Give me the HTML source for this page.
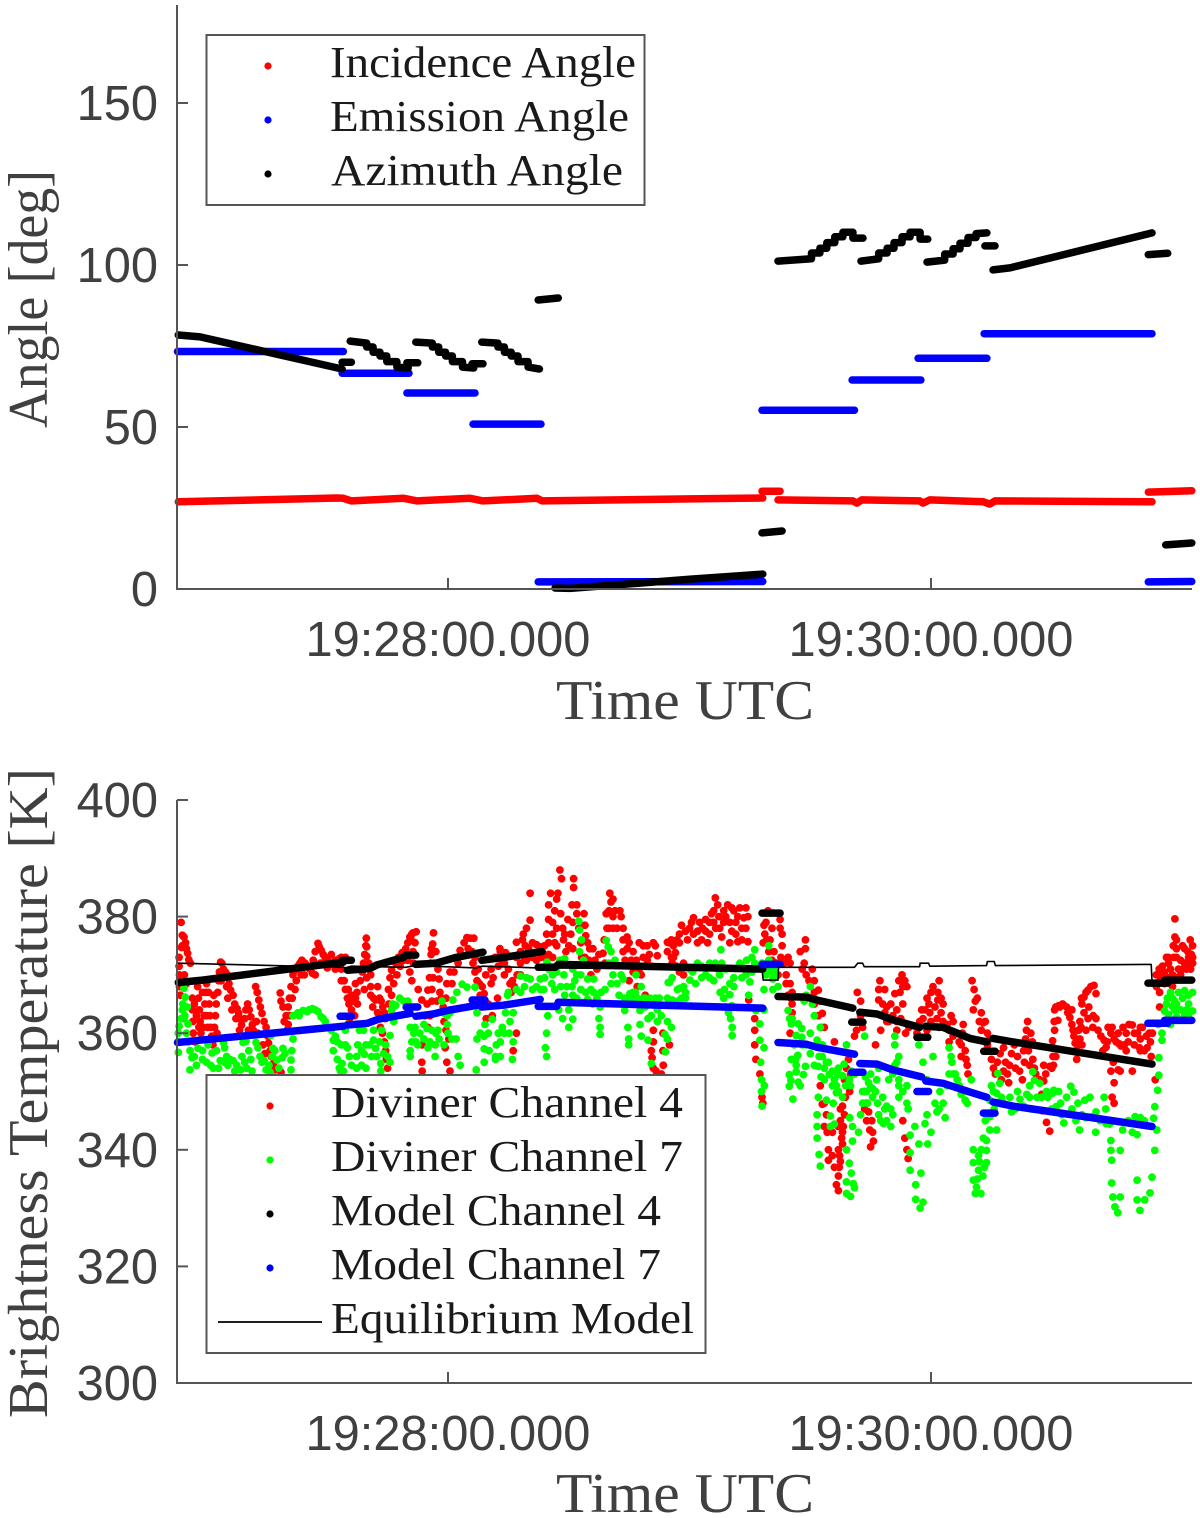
<!DOCTYPE html>
<html>
<head>
<meta charset="utf-8">
<title>Angles and brightness temperature</title>
<style>
html,body{margin:0;padding:0;background:#fff;width:1200px;height:1518px;overflow:hidden}
svg{display:block}
.tick{font-family:"Liberation Sans",sans-serif;font-size:48.8px;fill:#404040}
.title{font-family:"Liberation Serif",serif;font-size:56px;fill:#404040}
.leg{font-family:"Liberation Serif",serif;font-size:44px;fill:#1a1a1a}
.axis{stroke:#555;stroke-width:2;fill:none}
.box{stroke:#555;stroke-width:2;fill:#fff}
</style>
</head>
<body>
<svg id="figure" width="1200" height="1518" viewBox="0 0 1200 1518" xmlns="http://www.w3.org/2000/svg">
  <g id="angle-marks"></g>
  <g id="angle-axes"></g>
  <text class="title" transform="translate(47,428) rotate(-90)" textLength="258" lengthAdjust="spacingAndGlyphs">Angle [deg]</text>
  <text class="title" x="556" y="719" textLength="258" lengthAdjust="spacingAndGlyphs">Time UTC</text>
  <g>
    <rect class="box" x="206.5" y="35" width="438" height="170"/>
    <circle cx="268" cy="66" r="3.6" fill="#ff0000"/>
    <text class="leg" x="330" y="77" textLength="306" lengthAdjust="spacingAndGlyphs">Incidence Angle</text>
    <circle cx="268" cy="120" r="3.6" fill="#0000ff"/>
    <text class="leg" x="330" y="131" textLength="299" lengthAdjust="spacingAndGlyphs">Emission Angle</text>
    <circle cx="268" cy="174" r="3.6" fill="#000"/>
    <text class="leg" x="331" y="185" textLength="292" lengthAdjust="spacingAndGlyphs">Azimuth Angle</text>
  </g>

  <g id="temp-marks"></g>
  <g id="temp-axes"></g>
  <text class="title" transform="translate(47,1418) rotate(-90)" textLength="650" lengthAdjust="spacingAndGlyphs">Brightness Temperature [K]</text>
  <text class="title" x="556" y="1512" textLength="258" lengthAdjust="spacingAndGlyphs">Time UTC</text>
  <g>
    <rect class="box" x="206.5" y="1075" width="499" height="278"/>
    <circle cx="270" cy="1106" r="3.6" fill="#ff0000"/>
    <text class="leg" x="331" y="1117" textLength="352" lengthAdjust="spacingAndGlyphs">Diviner Channel 4</text>
    <circle cx="270" cy="1160" r="3.6" fill="#00ff00"/>
    <text class="leg" x="331" y="1171" textLength="352" lengthAdjust="spacingAndGlyphs">Diviner Channel 7</text>
    <circle cx="270" cy="1214" r="3.6" fill="#000"/>
    <text class="leg" x="331" y="1225" textLength="330" lengthAdjust="spacingAndGlyphs">Model Channel 4</text>
    <circle cx="270" cy="1268" r="3.6" fill="#0000ff"/>
    <text class="leg" x="331" y="1279" textLength="330" lengthAdjust="spacingAndGlyphs">Model Channel 7</text>
    <line x1="218" y1="1322" x2="322" y2="1322" stroke="#000" stroke-width="1.8"/>
    <text class="leg" x="331" y="1333" textLength="363" lengthAdjust="spacingAndGlyphs">Equilibrium Model</text>
  </g>
</svg>
<script>
// Tick values. Time is in seconds relative to 19:28:00.
const timeTicks = [0, 120];
const timeTickLabels = ['19:28:00.000', '19:30:00.000'];
const angleTicks = [0, 50, 100, 150];
const tempTicks = [300, 320, 340, 360, 380, 400];

// Top panel: [seconds, degrees]
const incidenceSegments = [
  [[-67,26.9],[-27.6,28.1],[-26,28],[-24,27.2],[-11,28],[-7.7,27.2],[5.5,28],[8.7,27.2],[22.1,28],[23.4,27.2],[60,27.8],[78.2,28.1]],
  [[78,30.2],[82.5,30.2]],
  [[82,27.5],[100.6,27.2],[101.6,26.5],[102.8,27.5],[117.2,27.2],[118,26.5],[119.7,27.5],[133,26.9],[134.6,26.2],[135.9,27.2],[174.9,26.9]],
  [[174,29.9],[184.8,30.3]]
];
const emissionSegments = [
  [[-67.2,73.3],[-26,73.3]],
  [[-26.3,66.6],[-9.7,66.6]],
  [[-10.2,60.5],[6.7,60.5]],
  [[6.2,50.9],[23.1,50.9]],
  [[22.4,2.2],[78.2,2.3]],
  [[78,55.2],[101,55.2]],
  [[100.4,64.5],[117.5,64.5]],
  [[116.8,71.2],[133.9,71.2]],
  [[133.2,78.8],[174.9,78.8]],
  [[174,2.2],[184.8,2.3]]
];
const azimuthSegments = [
  [[-67,78.4],[-61.6,77.8],[-26.3,67.9]],
  [[-26.3,70],[-24,70]],
  [[-24.3,76.5],[-20.2,75.9],[-20.2,74.7],[-18.6,74.7],[-18.6,73.1],[-16.9,73.1],[-16.9,71.9],[-15.2,71.9],[-15.2,70.2],[-12.7,70.2],[-12.7,68.5],[-9.9,68.2]],
  [[-10.2,69.8],[-7.5,69.8]],
  [[-8,76.2],[-3.9,75.9],[-3.9,74.7],[-2.3,74.7],[-2.3,73.1],[-0.6,73.1],[-0.6,71.9],[1.1,71.9],[1.1,70.2],[3.6,70.2],[3.6,68.5],[6.4,68.2]],
  [[6,69.5],[8.7,69.5]],
  [[8.4,76.2],[12.4,75.9],[12.4,74.7],[14,74.7],[14,73.1],[15.7,73.1],[15.7,71.9],[17.4,71.9],[17.4,70.2],[19.9,70.2],[19.9,68.5],[22.7,67.9]],
  [[22.4,89.2],[27.4,89.8]],
  [[26.6,0.3],[30.3,0.2],[60,3],[78.2,4.6]],
  [[78,17.3],[83,17.9]],
  [[82,101.2],[90.3,101.9],[90.3,103.7],[92.4,103.7],[92.4,105.2],[94.1,105.2],[94.1,106.9],[96.1,106.9],[96.1,108.7],[98.1,108.7],[98.1,110.1],[100.6,110.1],[100.6,108.3],[103.1,108.3]],
  [[102.6,101.2],[107,101.9],[107,103.7],[109.1,103.7],[109.1,105.2],[110.8,105.2],[110.8,106.9],[112.8,106.9],[112.8,108.7],[114.8,108.7],[114.8,110.1],[117.3,110.1],[117.3,108],[119.2,108]],
  [[119,100.9],[123.4,101.5],[123.4,103.4],[125.5,103.4],[125.5,105],[127.2,105],[127.2,106.7],[129.2,106.7],[129.2,108.5],[131.2,108.5],[131.2,109.7],[133.9,109.9]],
  [[133.4,105.9],[135.9,105.9]],
  [[135.4,98.5],[139.6,99.1],[174.9,109.9]],
  [[174,103.2],[178.8,103.6]],
  [[178.3,13.6],[184.8,14.2]]
];

// Bottom panel: [seconds, kelvin]
const model4Segments = [
  [[-67,368.7],[-61,369.1],[-26,372.2]],
  [[-26.3,372.5],[-24,372.5]],
  [[-25,370.8],[-19.4,371.1],[-17.7,371.7],[-11,373]],
  [[-10.5,373.4],[-8,373.4]],
  [[-8,371.8],[-3,372],[2,373],[8.7,373.9]],
  [[8.4,372.5],[13.8,373],[23.4,374]],
  [[22.4,371.3],[26.6,371.3],[27.4,371.8],[78.2,371]],
  [[78,380.6],[82.5,380.6]],
  [[82,366.3],[89.1,366.2],[91.6,365.7],[100.6,364.3]],
  [[100.3,361.9],[103.1,361.9]],
  [[102.3,363.6],[106.6,363.3],[110.5,362.3],[117.2,361]],
  [[116.5,359.3],[119.2,359.3]],
  [[118.7,361.2],[123,361],[129.7,359.1],[133.9,358.5]],
  [[133.1,356.9],[135.9,356.9]],
  [[135.4,359.1],[139.6,358.6],[174.9,354.7]],
  [[173.9,368.6],[178.8,368.6]],
  [[178,369.1],[184.8,369.1]]
];
const model7Segments = [
  [[-67.2,358.4],[-61.6,358.8],[-26,361.2]],
  [[-26.8,362.9],[-24,362.9]],
  [[-25,361.4],[-20,361.7],[-17.3,362.4],[-9.4,363.4]],
  [[-10.4,364.5],[-7.5,364.5]],
  [[-8,362.9],[-3.7,363.3],[-0.2,363.9],[7.4,364.8]],
  [[6,365.7],[9.2,365.7]],
  [[8.4,364.5],[13.8,364.8],[22.9,365.8]],
  [[22.4,364.6],[27,364.6],[27.4,365.3],[78.2,364.3]],
  [[78,371.8],[82.5,371.8]],
  [[82,358.4],[89.1,358.1],[91.6,357.6],[101,356.4]],
  [[100.3,353.3],[103.1,353.3]],
  [[102.3,354.8],[106.6,354.7],[110.5,353.7],[117.7,352.5]],
  [[116.5,350],[119.4,350]],
  [[118.7,351.8],[123,351.4],[129.7,349.9],[133.9,349]],
  [[133,346.3],[135.9,346.3]],
  [[135.4,348.2],[140.3,347.5],[174.9,344]],
  [[173.9,361.7],[178.8,361.7]],
  [[178,362.2],[184.8,362.2]]
];
const equilibriumLine = [[-67,372],[-26,371.3],[-25.5,371.2],[-24,371.5],[-10.5,371.3],[-9,371.5],[-8,371.6],[7,371.2],[8.5,371.5],[22.4,371.2],[78,371],[78.3,369.1],[82,369.1],[82.1,371.3],[101,371.3],[101.8,372],[103,372],[103.4,371.4],[117.2,371.4],[117.3,372],[119.4,372],[119.7,371.5],[133.8,371.6],[134,372.3],[135.7,372.3],[136,371.6],[174.7,371.8],[174.9,369],[184.8,369.1]];

const channel4Obs = [
[-66.3,379],[-66,376.8],[-65.6,376.5],[-65.2,375.5],[-65,374.5],[-64.7,373.7],[-64.4,372.6],[-66.8,373],[-66.8,371.5],[-66.7,370],[-66.7,368],[-66.5,366.5],[-65.5,370],[-65,368.5],
[-63.5,366],[-63.5,364],[-63.4,362],[-63.3,360],[-62.8,358.5],[-62.2,368],[-62,366],[-61.8,364],[-61.6,362],[-61.4,360],[-60.8,361],[-60.6,363],[-60.4,365],[-60.2,367],[-60,368.5],[-59.5,367],[-59.3,365],[-59.1,363],[-58.9,361],[-58.7,359.5],[-58.4,358],[-58,361],[-57.8,363],[-57.6,365],[-57.2,367],[-57,369],[-56.8,370.5],[-56.5,372.2],[-56.2,372],[-55.8,371],[-55.3,370.5],[-54.8,370],[-54.4,368.5],[-54,367.4],[-53.4,366.5],[-53,365],[-52.4,364.2],[-52,363.4],[-51.5,362.4],[-51.3,361.4],[-50.5,362.5],[-50.2,364],[-49.8,365],[-49.4,364],[-49,362.8],[-48.6,361.5],[-48.4,360.5],[-47.8,368],[-47.4,367],[-47,365.7],[-46.6,364.5],[-46.2,363.4],[-45.7,362],[-45.2,361],[-44.8,359.5],[-44.6,358.3],[-44.2,357],[-43.9,356],[-43.4,354.8],[-43,353.7],[-41.5,353.3],
[-66,375],[-64,372],[-66.2,374.7],[-63,365],[-62.5,363],[-61.9,361],[-61,367],[-60,363],[-59.7,361],[-58.2,366.5],[-57.4,360],[-56.3,369],[-55,368],[-54.7,366],[-53.7,364],[-52.7,362.5],[-51.8,360.5],[-49.6,360.5],[-47.6,362],[-47.3,360],[-46,358],[-45.5,356.5],[-42.5,354],
[-41.7,366.9],[-41.5,365.5],[-41,364.5],[-40.2,363],[-39.7,364.5],[-39.4,366],[-39,368],[-38.5,370],[-38,370.8],[-37.3,371.5],[-36.8,372],[-36.3,372.5],[-35.5,372],[-34.8,371.5],[-34.3,371],[-33.7,370.3],[-33,370],[-32.3,375.4],[-32,374.8],[-31.5,374.2],[-31,373.5],[-30.5,373],[-30,372.9],[-29,372],[-28,372.5],[-27,372.8],[-26,372.5],[-25.5,373],
[-40.7,362],[-40,360.5],[-39.7,361.5],[-39.3,363],[-38.7,366],[-38,367.5],[-37.7,369],[-36.5,370],[-35.7,370],[-33.5,372.5],[-33,374],[-31.7,372],[-30,371.2],[-29,373.5],[-28,371],
[-26.5,373],[-26.5,371],[-26.5,369],[-25.8,369],[-25.5,367.5],[-25,366],[-24.6,365],[-24,364],[-23.2,363],[-23,368.5],[-22.6,367],[-21.8,369],[-21.3,370.5],[-21,372],[-20.7,373.5],[-20.4,375],[-20.3,376.3],[-20.2,374.8],[-20.2,373.2],[-20.4,371.7],[-19.2,370],[-19.2,368],[-19.2,366.5],[-18.5,366],[-18,365.7],[-17.5,368],[-17,366],[-16.6,365.5],[-16.2,364.5],[-15.8,363.5],[-15.5,362.5],[-16.8,361],[-16.3,360],[-15.8,358.5],[-15.5,357],[-15.3,355.5],[-15,354],[-14.8,367.5],[-14.4,369.5],[-14,370.8],[-13,372],[-12.3,373],[-11.4,373.8],[-10.5,374.5],[-10,375.5],[-9.5,376.5],[-9,377],[-8.7,377.2],[-7.9,377.4],[-8.2,375.5],[-9.2,376],[-8.7,374],[-8.6,372],[-7.4,367.5],[-6.5,365.7],[-6.4,358],[-6.5,355],[-6.4,353.5],[-5,367.4],[-4.6,369.5],[-4.3,372],[-4.1,374.5],[-3.6,377.2],[-3.8,375.3],[-4.2,373.5],[-2.5,371],[-2.2,369.3],[-2.8,365.5],[-1.2,364.5],[-0.3,368.5],[0.5,370.5],[-0.7,357.5],[-0.3,355],[0.5,353.5],[4,375.5],[3,374.2],[4.7,376.4],[6.4,376.3],[6.7,373],[7.5,371],[7.8,368.5],[9,366.8],[9.4,370],[10.7,371],[11.7,373],[12.9,374.5],[13,374],[14.3,373.8],[14,372],[11,363],[12.3,366],
[-24.8,367.5],[-24,366.5],[-23.7,365.5],[-23,366],[-22.5,365],[-24.5,362.5],[-20.8,367.5],[-20.2,369.5],[-19.7,372],[-18.7,364.5],[-17.5,363.5],[-17,362.5],[-14.7,365],[-14,366.5],[-13.5,368.5],[-12.7,370],[-11.9,371.5],[-11,372.5],[-10,372.5],[-9.5,370.5],[-9,369],[-5.7,363],[-5.2,365],[-5,361],[-4.5,363],[-4,365.5],[-4,367.5],[-3.7,369.5],[-3.3,372],[-3,374],[-2,367],[-1.7,366],[-0.5,366],[-1,362],[-0.5,360.5],[0.2,359],[2.5,372],[1.5,370.5],[1,368.5],[5.5,376.3],[5,374.5],[6,374],[6.2,372],[6.7,370.5],[7.2,369],[8,366.5],[8.5,368],[8.5,364.5],[9.5,362.5],[10,365],[10.7,368.5],[11.2,369.5],[12.5,371.5],[13.5,372.5],[14,370],[15,371],[16,369],[16.5,368],
[15.4,368.5],[15.7,367],[17,375.6],[17,373],[17.2,370],[17,360],[16.2,357],[20.4,384],[20.4,379.4],[19.5,378],[18.5,376],[18.7,377],[19.2,375],[20,374.5],[21,375.5],[22,375.2],[23,374.8],[24,375],[25,375.5],[24.5,377],[25,379.5],[25,382],[25.5,384],[27.3,384],[27.8,388],[28.2,386.5],[27,383],[26.5,381],[26,379],[26,377],[26.5,375.5],[29,377],[29.8,379.5],[30.8,382],[31.2,386.5],[31.2,385],[32,382],[32,380.5],[33.8,380.5],[34,378.5],[34.2,376.7],[34.7,375.5],[35.2,374.5],[36,374.5],[38.8,376],[38.5,373.7],[39,372],[35.5,370],[40.2,384],[40.5,382.5],[41,383],[40,381],[41,380],[41.5,381],[42.7,381],[43,380],[43.5,378],[43.5,376],[45,375.5],[46,374],[44,372.5],[47.5,375.5],[48.5,375],[48.5,373],[51,375.5],[51.5,375],[50,373.5],[52,373.3],[45.5,366],[45,369],[49,366.5],[50.5,365],
[18,374],[18,372],[18,370],[19,373],[19.5,372.5],[21,373],[22,372.5],[23,373],[24,373],[25,373.5],[26,373],[27,375],[27,378],[28,380.5],[28.5,378],[28.7,376],[29.3,374],[30,375],[30.5,377],[31,379],[31,374.5],[32.5,378],[33,375.5],[33.2,373],[34,373],[35,372.5],[36.5,372.5],[37,371],[37.5,373.5],[39.5,378],[39.3,380.5],[40,378],[41,378],[42,378],[44.5,376.5],[44.5,374.5],[43.5,374],[45.5,372.5],[46.8,372.5],[47.5,371],[48,370],[49.5,375],[49.5,372.5],[50.5,371.5],[46,370.5],[47,368],
[51,360.5],[51,358.5],[50.5,357],[50.7,355.8],[51,354],[51.7,353.5],[53.4,360],[53.4,357],[53.5,354.5],[53,353],[55,375.5],[54.5,374],[55.5,373],[56.7,371.5],[55.7,372],[57.5,370.5],[56,375],
[54.5,375.6],[56,373],[56.5,373.8],[56.9,376],[57.5,375.5],[58.5,372],[58.5,370],[59,377.5],[60.5,379],[61,379.8],[62.5,379],[63.2,378],[63,376],[64,379.5],[65,377],[65.5,380.5],[66,381],[66.4,383.2],[67,382],[67.3,380],[66.5,378],[68,376.5],[69.5,382],[69,380],[71,381],[71.5,379],[71.5,377],[74,381.5],[73.5,379.8],[73,378],[72,375.7],[74.5,375.7],[55,358],[74.7,365.7],[76.2,362.5],[76.2,360.5],[76.2,358],[76.5,355.5],[77.5,353],[78,349],[78.2,348],
[55.5,376],[57.5,377],[58,378.5],[59.5,376],[60,378],[61,377],[62,377.5],[62,375.5],[64,377.5],[64.5,375.5],[65,379],[66,379],[67.5,378],[68.5,379],[68.5,381],[70,379],[70.5,381.5],[70.5,377.5],[72,380],[72.5,381.5],[73,376],[74,378],[74.5,380],[70,375.5],
[79.5,381],[79,379],[78.7,377],[78.3,375.5],[80,376],[81,374],[82.5,379.5],[82.5,378],[83,375],[83.5,372],[84.5,373],[85,372],[85.5,367],[85.5,365],[85.5,363.5],[85,360],[88.8,376],[88.8,374.5],[88.5,372],[90.5,371],[91,369],[92,367.4],[91,365],[93,363.4],[93.5,361],[96,358.5],
[78.5,378.5],[79.2,376],[79.7,374],[80.5,378],[80.5,372.5],[81.5,372],[82,370],[83,377],[82.7,373],[84,370],[84,368.5],[84.5,366.5],[85,368.5],[85.2,366],[87.5,374],[88,371],[89,370],[89.7,369],[91,367],[92,363],[92.5,365.5],[92.7,361],
[92.5,351],[93,347.8],[93.5,344],[94.5,340],[94.5,338.2],[97.5,345],[98,343],[98,341],[97,340],[97.5,338],[97,335.5],[97,333],[99,351],[98.7,349],[98,347.5],[98.5,346],[98.2,344],[97.8,342],[97.3,339],[97.2,337],
[93.5,348],[94,346],[94.2,343],[95.5,339],[96,337],[96.5,334],[95.5,343],[97,344],[97.5,347],[98.5,352],[99,354],[99.5,355.5],[100,353],[99.8,350],
[101.7,367],[102.5,365.5],[101.5,360.5],[101,359.5],[103.5,350],[103.5,347],[104,345],[104.8,343.4],[105,340.5],[106.2,358],
[107.3,369],[107,367.5],[107,365.7],[109,364.5],[110,365],[111,366.8],[112,369],[112.8,370],[112.3,367],[107.5,360.5],[111.5,360.5],[113.7,360],[108,365],[108.5,363.5],[111.5,364],
[102.5,363],[103,361],[104,348],[105.5,343],[105.7,341.5],[105.3,345],[104.5,346.5],[108.5,367.5],[109,362],[109.5,362],[110.5,363],[111.5,362],[113,368],[113.5,369],[114,368],[113,365],[112.5,362.5],[114.5,361],
[113,345],[113.5,342],[114,340],[114.3,338.5],
[117.7,364],[117.2,362],[119.7,363.5],[122,369],[121.7,367],[121.7,365.7],[121,364.5],[120,362],[119,360.5],[122.5,363.5],[123,362],[125.5,362],[125.5,359.5],
[116.5,360],[118,362.5],[118.5,364],[119,366],[119.5,365],[120,367],[120.5,368],[121.5,362.5],[122,361],[122.5,366],[123,365],[124,361.5],[124.5,360.5],[125,363],[124.5,358.5],[127.8,360],[127,358.5],[127.5,356],[128.7,355.5],[129.2,353],[130.2,369],[130.5,364],[131.5,366],[132,362],[132.5,360.5],[133.5,362],[134,358],[135,355.5],[135.5,354],[136.5,355],[137.5,352],[138.5,355],[138,353.5],[140,356.5],[139.5,354.5],[141,354],[142,353.5],[143,357],[143.2,355],[144.2,357],[144.5,354.5],[146,353],[147,352],[148.5,353],
[128,361.5],[128.5,357],[129,354.5],[127.5,358],[130.7,367.5],[131,365.5],[132.5,363.5],[133,361.8],[134,360],[134.5,359],
[136,353],[137.2,356.5],[138,357.5],[139,353],[139.3,351.5],[140.7,358],[141.5,356],[142.7,352],[144,362],[143.7,360.5],[143.5,359],[144.8,360],[145.2,358.5],[145.3,355.5],[145.7,354],[148,354.5],[149.5,354.3],[150,354],[148,351.8],[147.5,349.5],[147.7,346.7],[148.7,344.7],[149.5,343.2],
[151,364.5],[151.5,362.2],[150.7,360.5],[150.2,358.7],[150.4,357.5],[153.7,364.5],[154.5,362.7],[155.3,360.5],[155.8,358.3],[152,364.5],[153,364.8],[154,363.5],[155,361.5],[155.5,359.5],[158,366.2],[159,367.4],[160.5,368.2],[158,363.5],[157.5,365],[156.7,360.5],[157,362],[161,366.8],[161,362.5],[161.5,360.5],[163,358.8],[163.5,357.6],[164.7,360],[166.5,360],[167.7,361],[170,361.4],[171.3,360],[173,357],[174.5,358.5],[165.5,359],[168.5,360],[169,358.5],[170.5,358],[172,359],[173.5,359.5],[172,361],[168.5,357],
[150.6,362],[150.7,364],[151.7,364.7],[150.3,356],[150.4,354.5],[151,356],[152.7,365],[154.2,364],[155,364],[156,357],[156.2,355.5],[156.8,358],[157.4,366],[157.3,361],[157,359],[157.5,358],[158.5,367],[159.7,368],[159.2,364.5],[159,362.5],[158.5,360.5],[160.3,363],[160.2,361],[162.2,359.5],[162.7,357],[164,361],[165,361],[166,358.5],[167.2,357.8],[168,358],[169.2,361.5],[170.5,360],[171.8,357.5],[172.5,361],[173.7,357.5],[174.2,360],[174.7,356],[175,360],[166.7,358.2],[163.8,358.5],[164.7,355.8],[165.3,355],[166.5,353.7],
[164.7,353.5],[165.5,351.5],[165,349],[165.5,348],[167,353.5],[170,353.5],[172,357],[175.7,352],[176.8,367],[176.8,364.5],
[180.6,379.6],[180.6,376.5],[180.2,375],[176.7,371],[177,369],[178,370.5],[179,372],[181,373],[182,372.5],[183,374.5],[184.4,376],[183.8,374],[183.5,371],[182,370],[181,369.5],[176,370],[179,373],[181,374.5],[176,368],[178,368.5],[180,368],[183.5,372],[184.7,373.5],[185,375],[185,373],
[177.5,371.5],[178.5,373],[179.5,371],[180,370],[180.3,373],[181.5,371],[182.5,371],[182.5,375],[183,372],[184,373],[184.5,371],[185,372],[179,369.5],[177.5,370],[181,376],[177,370.5]
];
const channel7Obs = [
[-65.6,367.7],[-65.3,366.2],[-64.8,364.5],[-66,364],[-65.4,363],[-64.6,361.6],[-66.8,361.2],[-67,360],[-67,358.5],[-67,356.7],[-65.9,365],[-65.6,362.5],[-66.3,362.5],
[-64.1,353.7],[-64.1,357],[-63.6,355.8],[-62.1,357.4],[-61,357],[-59.6,358],[-58.6,356.6],[-61,355.5],[-58.3,354],[-56.6,355.3],[-55.8,358.4],[-55.5,357.5],[-55,356],[-54.2,355.5],[-53.4,355.3],[-52.5,354.5],[-51.5,353.7],[-51.2,356],[-50.9,358.4],[-50.2,358.6],[-49.5,357],[-48.7,353.5],[-47.7,358.4],[-47.2,357.5],[-46.7,356],[-45.7,355.3],[-44.5,354.5],[-44.2,353.3],[-43.5,357.4],[-44,359.6],[-43,357],[-42.5,355.4],[-41,357.4],[-41.2,355.8],[-39,353.7],[-39,355.4],[-38.8,357],[-38.5,359],[-38.5,363],[-37.3,363.5],[-36,363.9],[-34.5,364],[-33,364],[-32.3,363.7],[-31.5,362.8],[-30.5,362],[-30,361],[-29,360.5],[-28,359.5],[-27.5,358.5],[-26.5,358],
[-65,360],[-64.5,358.5],[-63,356],[-62.5,354.5],[-60,355],[-59,354.5],[-57.5,357],[-57,354],[-55.5,355],[-54.7,354.5],[-53,353.5],[-50.5,355],[-50,354],[-49,355.5],[-46.2,355],[-45.2,353.7],[-43.7,356],[-42,354],[-40.5,356.5],[-37,363],[-35,363.7],[-33.7,364.2],[-31,362.5],[-29.5,361],[-25,357.5],[-24.5,356],[-24,354.5],[-21.5,357],[-21.5,354.5],[-19.5,358],[-19,356],[-17,358.5],[-16,356.5],[-15,356],[-15.5,358],[-13.5,362],[-11,365.5],[-9,358.5],[-8.5,360],[-8,358.5],[-6,359],[-6,361.5],[-5,357.5],[-4.5,358.5],[-3,360],[-2.2,359],[-1,358],[-0.2,363],[0,360],[0.5,363.5],[2,359],[2.5,356],[3,354.5],[8,360],[9,359.5],[10,360],[10.2,357],[12,358],[12.5,360],[13.5,361],[13,356],[14,360],[15.2,360],
[-28.5,358.8],[-28.5,357],[-27.5,355.5],[-27,354],[-26.7,353.5],[-26.3,354.8],[-26,353.5],[-25.5,360.5],[-25.5,358],[-25,361.5],[-22.7,354],[-22.7,356],[-22.4,358],[-22,360.5],[-21,360.5],[-20.4,358],[-20.8,356.4],[-20.4,354],[-18.5,360.5],[-18.5,358.8],[-18,357.4],[-17.7,356],[-16.7,354.8],[-16.7,353.5],[-14.4,355],[-16.5,360.5],[-14.4,359.6],[-14,364],[-13.8,365],[-12,366],[-10,365.5],[-13,364.8],[-9.4,361],[-9.4,357],[-9.4,356],[-7.5,358],[-8.2,361],[-7,360],[-5.2,360.8],[-4,360.5],[-3.2,358],[-3.2,356],[-1.5,365.5],[-1.2,363.5],[-2.5,360.5],[-0.2,361.5],[1,359],[1.2,365.7],[2.2,367],[3.5,368.4],[4.7,367.9],[6.7,367.9],[7.2,363.5],[7.2,359],[9.2,361.5],[11,362.4],[9,357.3],[11.8,356],[9,355],[11.8,355.5],[14.3,363.5],[13,358.5],[14.8,366.5],[7,353.7],
[15,367],[15.4,362],[16.2,363.5],[16.2,358.5],[16,355.5],[17,367.5],[18,369.8],[20.4,369.3],[22.9,369.3],[24.6,372.2],[25,371],[23.8,367.5],[25.8,368.5],[26.5,367.5],[27.8,372.5],[28.8,370],[29,372.8],[31,371],[32.5,379.2],[32.7,377.7],[33.2,376],[32.7,374],[33.7,372.5],[34.7,369.3],[34.2,367],[34.7,365.8],[31.5,369],[30.8,368],[28,368],[27.5,364],[30,364],[31,362.4],[30,361],[24.8,363],[24.5,360],[24.2,357.5],[24.5,356],[36.2,369.3],[36.2,367],[37,366],[39,367.5],[37.8,364.5],[37.5,362.5],[37.8,361],[37.8,359.8],[39.3,375.9],[39.8,374.8],[40.5,374],[41.5,372.5],[43.5,369.3],[43.9,366],[43.9,363.9],[45.2,366.8],[44.7,361],[44.9,359],[44.9,358],[46.7,370],[46.5,367],[45.5,365.7],[47.7,363.9],[47.7,361.5],[49,366],[49.7,362.5],[49.7,358.8],[54,356.8],[50.5,354.8],[55,368.7],[54.5,366],[54.5,362],[55.5,365],
[18,367],[19,368],[21,367.5],[22,368],[19.5,369.5],[23,367.5],[24,369.5],[26,370],[27,370.5],[29,366.5],[28.5,362.5],[31,366.5],[32,366],[33,367.5],[29.5,368],[32,370],[33,370],[35.5,367.5],[36,365],[38,367],[40,372],[41,370],[42,368.5],[43,370],[42.5,366.5],[40.5,368.5],[46,367],[47,366],[48,368],[48.5,366],[48,359.5],[50.5,363],[51.5,366],[52,364],[52.5,366],
[50.2,366],[49,364.5],[52,362],[53.9,359.8],[55.5,361],[54.5,359],[53,363],[54.7,368.7],[55.7,369.5],[55.7,365.7],[56.5,364.8],[57,367.5],[57.6,367.7],[58.5,368],[60.1,369.1],[59,366],[62,372],[60.8,370.5],[64,370],[65,372],[66.4,372],[67.8,374.3],[68,372],[68.7,367.5],[70,366.6],[70.2,362.5],[70.5,364.7],[67.6,367],[67.5,370],[68.5,366],[71,368],[72.5,372],[74.2,372.5],[73,369.5],[75,368.8],[74.7,366.5],[76.2,374.3],[76.2,372],[70.6,361],[70.6,359.6],
[57,365.5],[58,366],[59,367],[60,371],[61.5,368.5],[63,369.5],[63,371.5],[65,369.5],[65.5,371.5],[66,369],[67,371],[69,371],[70,368.5],[71,369.5],[73,371.5],[74,370],[75.5,373],[75.5,370.5],[69,364.5],[69.7,363.5],
[76.5,363.9],[78.5,364],[77.5,361.6],[77.5,358.8],[78.5,357.5],[77.7,355],[77.9,352],[78.6,351],[77.9,350],[78,347.5],
[78.5,367.5],[80.7,369.3],[80.7,367.5],[79.7,375],[78,372],[80,371],[79,370],[81,370.7],[80.5,370.5],[79.7,372.5],[81.3,370],[82,368],[84.5,363.9],[84.9,362.5],[85.3,361.6],[86.5,359.6],[85.3,355.5],[86.9,356.2],[84.8,352.9],[86.5,353.4],[85.2,351.9],[84.8,350.9],[85.7,348.7],
[85.5,362.5],[87,361.6],[87.9,360.8],[87.9,359.3],[88.5,365.5],[89,366.5],[90,368],[90.5,365],[86.3,355.5],[88.8,354.3],[91.7,358.8],[92,354.3],[92.5,361],[92.2,356],[88.3,352.9],[87,351.6],[87.5,351],[92,349],[94,355],[93.5,352],[94,348.5],[94.7,352.9],[96.8,352.9],[98.4,354.7],[99,358],[97,350],[98,349],[99.7,352],
[86,358],[86.5,354.5],[88,358],[89,358],[90,360],[91,363],[90,356.5],[91,354.5],[93,358],[93,356],[92.7,352.5],[93.5,354],[94.5,355],[95.5,353.5],[96,352],[97,354],[98,352.7],[96.5,351],[95.5,351],[98.8,351],[100,351],[101,353],[100.2,353.5],
[91.7,346],[91.7,344],[91.7,342],[92.2,339.2],[92.5,337.2],[95,345.8],[95.7,348],[96.5,349.8],[95,344],[96,344.4],
[99.8,345.5],[99,340],[100.5,344],[100.5,341.5],[99.7,337.7],[100.2,336],[99,334.5],[100.7,334.2],[99,332.5],[100,332],[101,333.5],
[102.5,346],[103.5,359.5],[104.5,351.5],[105,350.7],[103.7,352.5],[105.5,349],[106.7,348],[107,346],[105,353],[107.5,345],[108,349],[109,345],[109.5,352],[110,344],[107,354],
[102,343],[103,350],[103,348],[104,350],[104.2,348],[105.5,350.5],[106.2,350],[106.5,352],[108.2,344.5],[108.5,347],[109,347.5],[110,347],[110.5,346],
[111,359.5],[111,358],[112,356],[112,352],[114,351],[112,349],[114,348],[114.3,347],[116,344],[112,351],[113,350],[111.5,355],[110.5,353],[111,354.5],
[114.8,342.5],[117,341],[114.8,339.5],[114.8,336.5],[117.5,336],[116.2,334],[116.2,331.5],[117.3,330],[118,331],
[119,346],[118.5,344.5],[120,343],[119.2,341],[117,358],[118,355],[119,352],[120.5,356],[121,348],[121.5,346.5],[122.2,350],[123,348],[123.5,345.5],[122,347],
[124.5,357.5],[125.2,355],[126,353],[127,351],[128,350],[129,350],[130,352],[128.5,348.5],[124,351],
[125,356],[125.5,353],[126.5,352],[127.5,349.5],[129,348],[124.5,353],[135,351],[135.5,350],[135.7,347],[133.5,345],[131.5,335],[132,338],[132.5,340],[131,332.5],[130.5,340],[133,342],[137.5,349],[138,348],[141,347],[141.5,350],[143,347.5],[144.5,351],[144.5,349],[145,347],[147.5,349],[149,349],[150,347],[151.7,350],[152.5,346],[153.7,349],[155,347],[156,345],[157.5,346],[158.5,345.5],[159.5,349],[161,346.5],[162,345],[163,349],[163.5,344.5],[169,345],[170,343],[172,345.5],[173,345],
[136.6,353.1],[137.1,351.4],[136.3,349.7],[134.6,345.7],[134.6,343.4],[136.3,343.4],[133.8,341.6],[133.8,339.9],[131.8,339],[130.5,337.8],[133.8,337.8],[130.5,334.8],[131.3,333.6],[132.4,332.5],[132.9,335.5],[133.3,337],[131.8,336.5],[134.6,348.5],[139.6,349],[140,346.5],[142.1,348.7],[143.8,349.5],[145.3,353.4],[145.7,351.9],[147,351.4],[146.3,349],[148.7,350],[150.2,349.7],[151.1,347.4],
[150.5,350.2],[152.2,348],[153,344.6],[154.7,350.9],[155.5,349.9],[156.5,348],[156.9,343.4],[158.2,348.5],[160,345.7],[160.9,343],[163.4,347],[164.4,344.4],[164.7,341.6],[164.7,339.9],[164.9,338.2],[167,339.9],[164.9,334.3],[165.2,331.9],[165.7,330.2],[166.4,329.2],[167,331.9],[167.6,343.4],[170.7,345.7],[171.2,342.6],[171.2,334.8],[171.2,331.4],[171.9,329.6],[173.1,331.4],[174.4,332.6],[174.9,335.3],[175.6,339.9],[176.1,343.4],[175.3,345.4],[175.6,347.4],[176.3,350.2],[176.6,352.8],[176.6,355.8],[177.4,358.8],[177.4,360],[176.5,361.5],[178,362],[178.7,366],[180,366],[181.5,367],[183,367.3],[185,367],[178,363.8],[180,364.6],[182,364],[184,365],[183,363],[181,362.8],[179,363.2],[185,363.8],[179.5,361.5],[180.5,365.5],[184,362.8],
[178.5,365],[179.5,367],[181,365],[182.5,366],[184,366.5],[183.5,364],[180.5,364]
];

// Axis functions
function xTime(t){ return 448 + 4.025 * t; }
function yAngle(v){ return 589 - 3.24 * v; }
function yTemp(k){ return 1383 - 5.83 * (k - 300); }

const NS = 'http://www.w3.org/2000/svg';

function drawSegments(parentId, segments, yFn, color, width, name){
  const parent = document.getElementById(parentId);
  segments.forEach(function(seg){
    const el = document.createElementNS(NS, 'polyline');
    
    
    el.setAttribute('points', seg.map(function(p){ return xTime(p[0]).toFixed(1) + ',' + yFn(p[1]).toFixed(1); }).join(' '));
    el.setAttribute('fill', 'none');
    el.setAttribute('stroke', color);
    el.setAttribute('stroke-width', width);
    el.setAttribute('stroke-linecap', 'round');
    el.setAttribute('stroke-linejoin', 'round');
    parent.appendChild(el);
  });
}
function drawDots(parentId, points, yFn, color, name){
  const parent = document.getElementById(parentId);
  points.forEach(function(p){
    const el = document.createElementNS(NS, 'circle');
    
    
    el.setAttribute('cx', xTime(p[0]).toFixed(1));
    el.setAttribute('cy', yFn(p[1]).toFixed(1));
    el.setAttribute('r', '3.9');
    el.setAttribute('fill', color);
    parent.appendChild(el);
  });
}
function drawAxes(parentId, bottomY, topY, ticks, yFn, prefix){
  const parent = document.getElementById(parentId);
  const axis = document.createElementNS(NS, 'path');
  
  
  axis.setAttribute('class', 'axis');
  axis.setAttribute('d', 'M177 ' + topY + 'V' + bottomY + 'H1192');
  parent.appendChild(axis);
  ticks.forEach(function(v){
    const y = yFn(v);
    const tick = document.createElementNS(NS, 'line');
    
    
    tick.setAttribute('x1', 177);
    tick.setAttribute('x2', 188);
    tick.setAttribute('y1', y);
    tick.setAttribute('y2', y);
    tick.setAttribute('stroke', '#555');
    tick.setAttribute('stroke-width', 2);
    parent.appendChild(tick);
    const label = document.createElementNS(NS, 'text');
    
    
    label.setAttribute('class', 'tick');
    label.setAttribute('x', 158);
    label.setAttribute('y', y + 17);
    label.setAttribute('text-anchor', 'end');
    label.textContent = String(v);
    parent.appendChild(label);
  });
  timeTicks.forEach(function(t, i){
    const x = xTime(t);
    const tick = document.createElementNS(NS, 'line');
    
    
    tick.setAttribute('x1', x);
    tick.setAttribute('x2', x);
    tick.setAttribute('y1', bottomY);
    tick.setAttribute('y2', bottomY - 11);
    tick.setAttribute('stroke', '#555');
    tick.setAttribute('stroke-width', 2);
    parent.appendChild(tick);
    const label = document.createElementNS(NS, 'text');
    
    
    label.setAttribute('class', 'tick');
    label.setAttribute('x', x);
    label.setAttribute('y', bottomY + 67);
    label.setAttribute('text-anchor', 'middle');
    label.textContent = timeTickLabels[i];
    parent.appendChild(label);
  });
}

drawSegments('angle-marks', incidenceSegments, yAngle, '#ff0000', 7.5, 'incidence-angle-points');
drawSegments('angle-marks', emissionSegments, yAngle, '#0000ff', 7.5, 'emission-angle-points');
drawSegments('angle-marks', azimuthSegments, yAngle, '#000000', 7.5, 'azimuth-angle-points');
drawAxes('angle-axes', 589, 5, angleTicks, yAngle, 'angle');

drawDots('temp-marks', channel4Obs, yTemp, '#ff0000', 'diviner-channel-4-point');
drawDots('temp-marks', channel7Obs, yTemp, '#00ff00', 'diviner-channel-7-point');
drawSegments('temp-marks', model4Segments, yTemp, '#000000', 7.5, 'model-channel-4-points');
drawSegments('temp-marks', model7Segments, yTemp, '#0000ff', 7.5, 'model-channel-7-points');
drawSegments('temp-marks', [equilibriumLine], yTemp, '#000000', 1.6, 'equilibrium-model-line');
drawAxes('temp-axes', 1383, 800, tempTicks, yTemp, 'temperature');
</script>
</body>
</html>
